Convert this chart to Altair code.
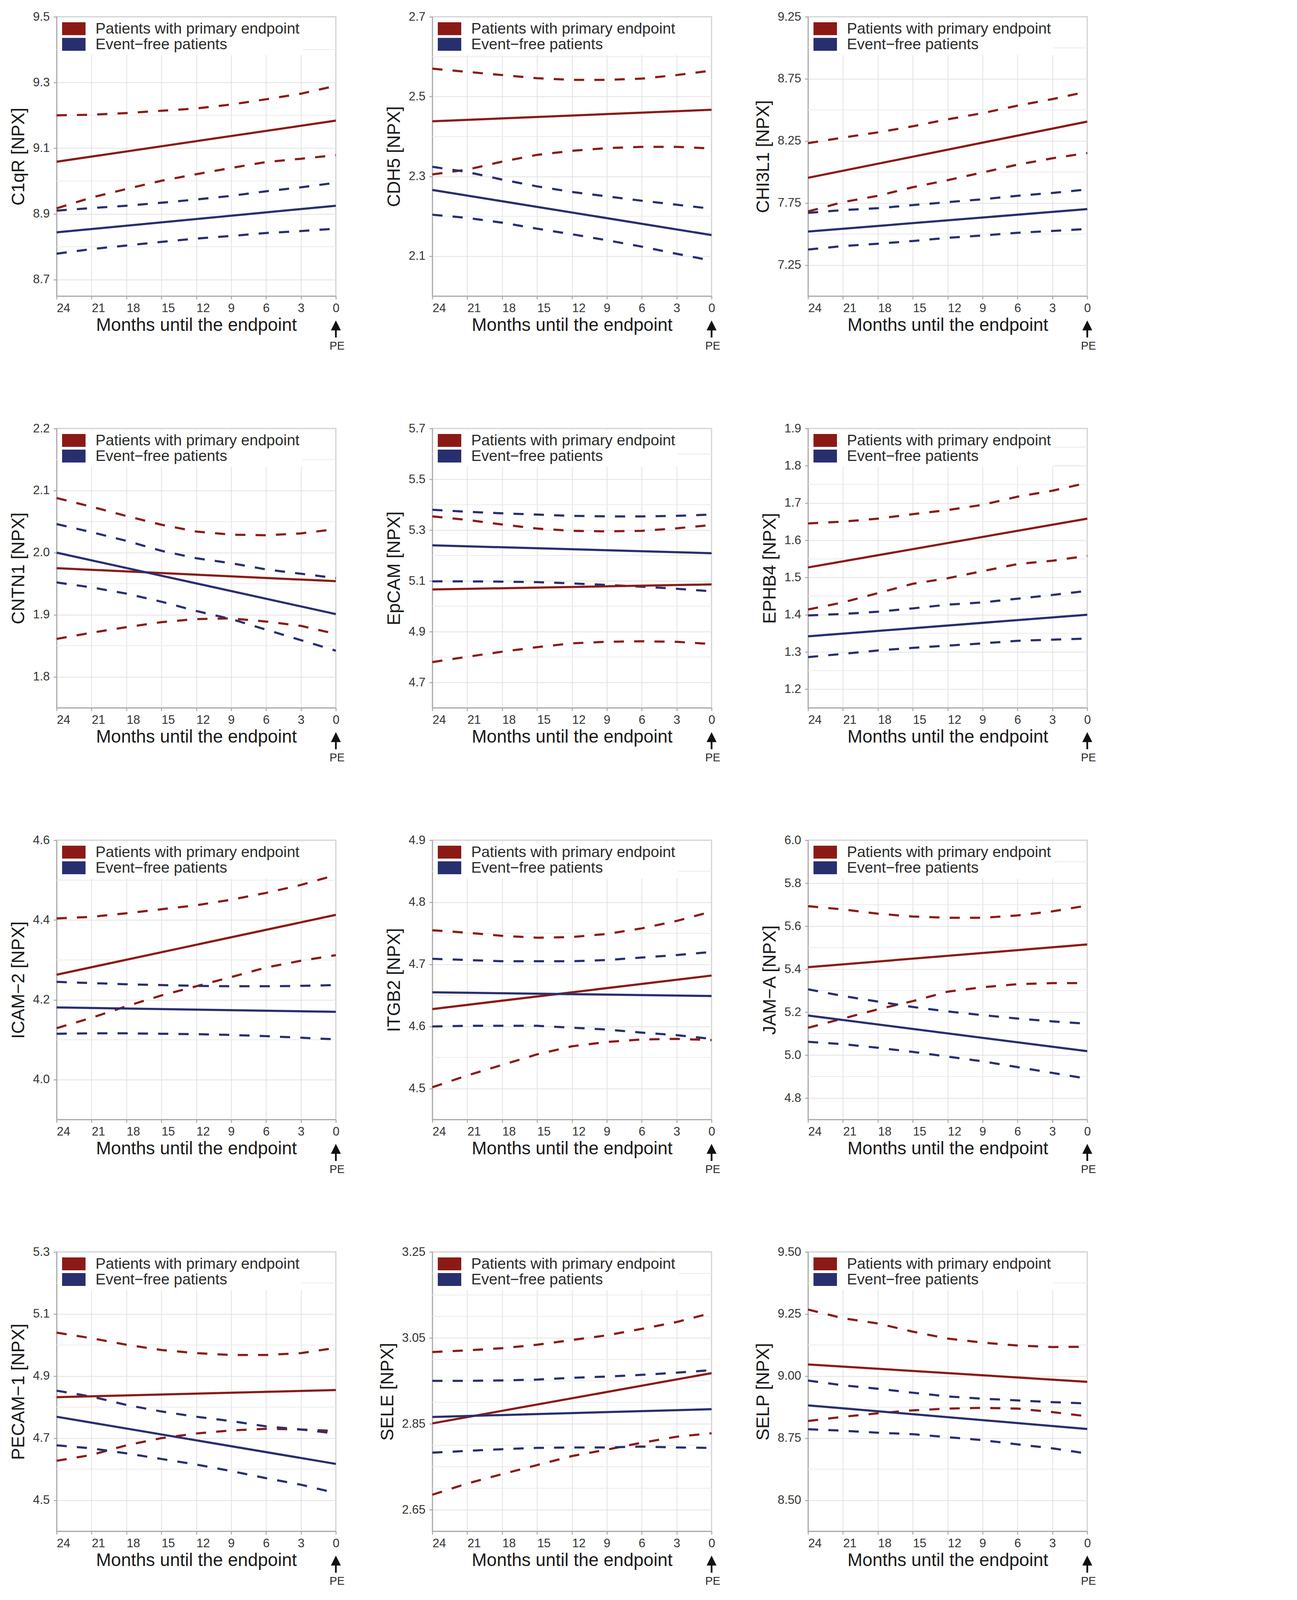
import altair as alt
import pandas as pd

# ---------------- shared values ----------------
MONTHS = [24, 21, 18, 15, 12, 9, 6, 3, 0]      # x positions of the CI readings
MID_MONTHS = [24, 0]                             # estimate lines are straight
GROUPS = ["Patients with primary endpoint", "Event\u2212free patients"]
GROUP_KEYS = ["PE", "EF"]
COLORS = ["#8b1a16", "#282f6f"]
PE_MONTH = [0]
X_TITLE = "Months until the endpoint"

# ---------------- C1qR ----------------
C1QR_DOMAIN = [8.65, 9.5]
C1QR_TICKS = [8.7, 8.9, 9.1, 9.3, 9.5]
C1QR_MINOR = [8.8, 9.0, 9.2, 9.4]
C1QR_PE_MID = [9.059, 9.184]
C1QR_PE_HI = [9.200, 9.202, 9.207, 9.214, 9.221, 9.233, 9.249, 9.266, 9.290]
C1QR_PE_LO = [8.917, 8.950, 8.976, 9.001, 9.021, 9.040, 9.058, 9.068, 9.079]
C1QR_EF_MID = [8.844, 8.925]
C1QR_EF_HI = [8.910, 8.918, 8.925, 8.934, 8.944, 8.955, 8.969, 8.981, 8.995]
C1QR_EF_LO = [8.779, 8.793, 8.804, 8.815, 8.825, 8.833, 8.842, 8.848, 8.855]

# ---------------- CDH5 ----------------
CDH5_DOMAIN = [2.0, 2.7]
CDH5_TICKS = [2.1, 2.3, 2.5, 2.7]
CDH5_MINOR = [2.2, 2.4, 2.6]
CDH5_PE_MID = [2.438, 2.467]
CDH5_PE_HI = [2.570, 2.562, 2.554, 2.546, 2.542, 2.542, 2.545, 2.554, 2.565]
CDH5_PE_LO = [2.305, 2.317, 2.337, 2.354, 2.364, 2.371, 2.374, 2.374, 2.370]
CDH5_EF_MID = [2.266, 2.153]
CDH5_EF_HI = [2.324, 2.311, 2.292, 2.275, 2.261, 2.250, 2.239, 2.229, 2.219]
CDH5_EF_LO = [2.204, 2.196, 2.184, 2.169, 2.155, 2.140, 2.124, 2.106, 2.089]

# ---------------- CHI3L1 ----------------
CHI3L1_DOMAIN = [7.0, 9.25]
CHI3L1_TICKS = [7.25, 7.75, 8.25, 8.75, 9.25]
CHI3L1_MINOR = [7.5, 8.0, 8.5, 9.0]
CHI3L1_PE_MID = [7.953, 8.406]
CHI3L1_PE_HI = [8.232, 8.277, 8.319, 8.368, 8.424, 8.474, 8.534, 8.587, 8.647]
CHI3L1_PE_LO = [7.682, 7.757, 7.808, 7.877, 7.934, 7.996, 8.059, 8.110, 8.153]
CHI3L1_EF_MID = [7.520, 7.701]
CHI3L1_EF_HI = [7.670, 7.693, 7.708, 7.733, 7.757, 7.780, 7.808, 7.831, 7.859]
CHI3L1_EF_LO = [7.375, 7.403, 7.422, 7.444, 7.469, 7.488, 7.510, 7.525, 7.541]

# ---------------- CNTN1 ----------------
CNTN1_DOMAIN = [1.75, 2.2]
CNTN1_TICKS = [1.8, 1.9, 2.0, 2.1, 2.2]
CNTN1_MINOR = [1.85, 1.95, 2.05, 2.15]
CNTN1_PE_MID = [1.975, 1.954]
CNTN1_PE_HI = [2.088, 2.074, 2.059, 2.045, 2.034, 2.029, 2.028, 2.031, 2.038]
CNTN1_PE_LO = [1.861, 1.871, 1.880, 1.888, 1.893, 1.894, 1.889, 1.882, 1.869]
CNTN1_EF_MID = [2.000, 1.901]
CNTN1_EF_HI = [2.046, 2.033, 2.019, 2.003, 1.991, 1.983, 1.973, 1.966, 1.959]
CNTN1_EF_LO = [1.952, 1.944, 1.934, 1.921, 1.906, 1.893, 1.876, 1.859, 1.842]

# ---------------- EpCAM ----------------
EPCAM_DOMAIN = [4.6, 5.7]
EPCAM_TICKS = [4.7, 4.9, 5.1, 5.3, 5.5, 5.7]
EPCAM_MINOR = [4.8, 5.0, 5.2, 5.4, 5.6]
EPCAM_PE_MID = [5.066, 5.086]
EPCAM_PE_HI = [5.354, 5.340, 5.322, 5.306, 5.297, 5.295, 5.297, 5.307, 5.320]
EPCAM_PE_LO = [4.780, 4.801, 4.821, 4.839, 4.854, 4.860, 4.862, 4.860, 4.851]
EPCAM_EF_MID = [5.240, 5.209]
EPCAM_EF_HI = [5.380, 5.372, 5.366, 5.361, 5.356, 5.354, 5.354, 5.356, 5.361]
EPCAM_EF_LO = [5.098, 5.098, 5.097, 5.095, 5.090, 5.084, 5.077, 5.069, 5.059]

# ---------------- EPHB4 ----------------
EPHB4_DOMAIN = [1.15, 1.9]
EPHB4_TICKS = [1.2, 1.3, 1.4, 1.5, 1.6, 1.7, 1.8, 1.9]
EPHB4_MINOR = [1.25, 1.35, 1.45, 1.55, 1.65, 1.75, 1.85]
EPHB4_PE_MID = [1.527, 1.658]
EPHB4_PE_HI = [1.645, 1.650, 1.658, 1.670, 1.681, 1.695, 1.717, 1.733, 1.754]
EPHB4_PE_LO = [1.414, 1.433, 1.458, 1.483, 1.498, 1.517, 1.536, 1.545, 1.558]
EPHB4_EF_MID = [1.342, 1.400]
EPHB4_EF_HI = [1.398, 1.402, 1.408, 1.417, 1.427, 1.433, 1.443, 1.453, 1.464]
EPHB4_EF_LO = [1.286, 1.295, 1.304, 1.311, 1.317, 1.323, 1.330, 1.333, 1.336]

# ---------------- ICAM-2 ----------------
ICAM2_DOMAIN = [3.9, 4.6]
ICAM2_TICKS = [4.0, 4.2, 4.4, 4.6]
ICAM2_MINOR = [4.1, 4.3, 4.5]
ICAM2_PE_MID = [4.263, 4.413]
ICAM2_PE_HI = [4.404, 4.408, 4.417, 4.427, 4.437, 4.451, 4.468, 4.488, 4.513]
ICAM2_PE_LO = [4.129, 4.155, 4.184, 4.211, 4.234, 4.257, 4.281, 4.298, 4.312]
ICAM2_EF_MID = [4.181, 4.170]
ICAM2_EF_HI = [4.245, 4.242, 4.239, 4.237, 4.235, 4.234, 4.234, 4.235, 4.237]
ICAM2_EF_LO = [4.115, 4.116, 4.116, 4.115, 4.114, 4.112, 4.109, 4.105, 4.101]

# ---------------- ITGB2 ----------------
ITGB2_DOMAIN = [4.45, 4.9]
ITGB2_TICKS = [4.5, 4.6, 4.7, 4.8, 4.9]
ITGB2_MINOR = [4.55, 4.65, 4.75, 4.85]
ITGB2_PE_MID = [4.628, 4.682]
ITGB2_PE_HI = [4.755, 4.751, 4.746, 4.743, 4.744, 4.749, 4.758, 4.770, 4.785]
ITGB2_PE_LO = [4.502, 4.521, 4.538, 4.555, 4.568, 4.575, 4.579, 4.580, 4.578]
ITGB2_EF_MID = [4.655, 4.649]
ITGB2_EF_HI = [4.709, 4.707, 4.705, 4.705, 4.705, 4.707, 4.711, 4.715, 4.720]
ITGB2_EF_LO = [4.600, 4.601, 4.601, 4.601, 4.598, 4.595, 4.590, 4.586, 4.580]

# ---------------- JAM-A ----------------
JAMA_DOMAIN = [4.7, 6.0]
JAMA_TICKS = [4.8, 5.0, 5.2, 5.4, 5.6, 5.8, 6.0]
JAMA_MINOR = [4.9, 5.1, 5.3, 5.5, 5.7, 5.9]
JAMA_PE_MID = [5.409, 5.515]
JAMA_PE_HI = [5.693, 5.678, 5.658, 5.645, 5.639, 5.639, 5.650, 5.669, 5.696]
JAMA_PE_LO = [5.127, 5.170, 5.213, 5.251, 5.295, 5.316, 5.330, 5.335, 5.335]
JAMA_EF_MID = [5.184, 5.018]
JAMA_EF_HI = [5.306, 5.275, 5.249, 5.224, 5.203, 5.186, 5.170, 5.157, 5.146]
JAMA_EF_LO = [5.062, 5.051, 5.034, 5.015, 4.993, 4.971, 4.944, 4.917, 4.890]

# ---------------- PECAM-1 ----------------
PECAM1_DOMAIN = [4.4, 5.3]
PECAM1_TICKS = [4.5, 4.7, 4.9, 5.1, 5.3]
PECAM1_MINOR = [4.6, 4.8, 5.0, 5.2]
PECAM1_PE_MID = [4.832, 4.855]
PECAM1_PE_HI = [5.040, 5.022, 5.001, 4.984, 4.974, 4.968, 4.968, 4.974, 4.991]
PECAM1_PE_LO = [4.627, 4.646, 4.677, 4.700, 4.715, 4.725, 4.730, 4.728, 4.723]
PECAM1_EF_MID = [4.769, 4.617]
PECAM1_EF_HI = [4.853, 4.834, 4.807, 4.786, 4.769, 4.755, 4.738, 4.728, 4.715]
PECAM1_EF_LO = [4.677, 4.667, 4.651, 4.633, 4.615, 4.594, 4.571, 4.550, 4.523]

# ---------------- SELE ----------------
SELE_DOMAIN = [2.6, 3.25]
SELE_TICKS = [2.65, 2.85, 3.05, 3.25]
SELE_MINOR = [2.70, 2.75, 2.80, 2.90, 2.95, 3.00, 3.10, 3.15, 3.20]
SELE_PE_MID = [2.851, 2.968]
SELE_PE_HI = [3.017, 3.021, 3.026, 3.034, 3.045, 3.056, 3.071, 3.087, 3.108]
SELE_PE_LO = [2.685, 2.711, 2.733, 2.754, 2.775, 2.790, 2.806, 2.820, 2.828]
SELE_EF_MID = [2.866, 2.884]
SELE_EF_HI = [2.950, 2.950, 2.951, 2.953, 2.957, 2.960, 2.964, 2.969, 2.975]
SELE_EF_LO = [2.783, 2.787, 2.791, 2.794, 2.795, 2.795, 2.797, 2.795, 2.794]

# ---------------- SELP ----------------
SELP_DOMAIN = [8.375, 9.5]
SELP_TICKS = [8.5, 8.75, 9.0, 9.25, 9.5]
SELP_MINOR = [8.625, 8.875, 9.125, 9.375]
SELP_PE_MID = [9.047, 8.977]
SELP_PE_HI = [9.268, 9.233, 9.212, 9.179, 9.151, 9.135, 9.123, 9.117, 9.118]
SELP_PE_LO = [8.819, 8.836, 8.850, 8.862, 8.869, 8.872, 8.869, 8.855, 8.838]
SELP_EF_MID = [8.882, 8.787]
SELP_EF_HI = [8.982, 8.963, 8.949, 8.933, 8.918, 8.909, 8.902, 8.895, 8.890]
SELP_EF_LO = [8.786, 8.780, 8.772, 8.766, 8.754, 8.742, 8.725, 8.709, 8.688]

PANELS = [
    ("C1qR", C1QR_DOMAIN, C1QR_TICKS, C1QR_MINOR, ".1f",
     C1QR_PE_MID, C1QR_PE_LO, C1QR_PE_HI, C1QR_EF_MID, C1QR_EF_LO, C1QR_EF_HI),
    ("CDH5", CDH5_DOMAIN, CDH5_TICKS, CDH5_MINOR, ".1f",
     CDH5_PE_MID, CDH5_PE_LO, CDH5_PE_HI, CDH5_EF_MID, CDH5_EF_LO, CDH5_EF_HI),
    ("CHI3L1", CHI3L1_DOMAIN, CHI3L1_TICKS, CHI3L1_MINOR, ".2f",
     CHI3L1_PE_MID, CHI3L1_PE_LO, CHI3L1_PE_HI, CHI3L1_EF_MID, CHI3L1_EF_LO, CHI3L1_EF_HI),
    ("CNTN1", CNTN1_DOMAIN, CNTN1_TICKS, CNTN1_MINOR, ".1f",
     CNTN1_PE_MID, CNTN1_PE_LO, CNTN1_PE_HI, CNTN1_EF_MID, CNTN1_EF_LO, CNTN1_EF_HI),
    ("EpCAM", EPCAM_DOMAIN, EPCAM_TICKS, EPCAM_MINOR, ".1f",
     EPCAM_PE_MID, EPCAM_PE_LO, EPCAM_PE_HI, EPCAM_EF_MID, EPCAM_EF_LO, EPCAM_EF_HI),
    ("EPHB4", EPHB4_DOMAIN, EPHB4_TICKS, EPHB4_MINOR, ".1f",
     EPHB4_PE_MID, EPHB4_PE_LO, EPHB4_PE_HI, EPHB4_EF_MID, EPHB4_EF_LO, EPHB4_EF_HI),
    ("ICAM\u22122", ICAM2_DOMAIN, ICAM2_TICKS, ICAM2_MINOR, ".1f",
     ICAM2_PE_MID, ICAM2_PE_LO, ICAM2_PE_HI, ICAM2_EF_MID, ICAM2_EF_LO, ICAM2_EF_HI),
    ("ITGB2", ITGB2_DOMAIN, ITGB2_TICKS, ITGB2_MINOR, ".1f",
     ITGB2_PE_MID, ITGB2_PE_LO, ITGB2_PE_HI, ITGB2_EF_MID, ITGB2_EF_LO, ITGB2_EF_HI),
    ("JAM\u2212A", JAMA_DOMAIN, JAMA_TICKS, JAMA_MINOR, ".1f",
     JAMA_PE_MID, JAMA_PE_LO, JAMA_PE_HI, JAMA_EF_MID, JAMA_EF_LO, JAMA_EF_HI),
    ("PECAM\u22121", PECAM1_DOMAIN, PECAM1_TICKS, PECAM1_MINOR, ".1f",
     PECAM1_PE_MID, PECAM1_PE_LO, PECAM1_PE_HI, PECAM1_EF_MID, PECAM1_EF_LO, PECAM1_EF_HI),
    ("SELE", SELE_DOMAIN, SELE_TICKS, SELE_MINOR, ".2f",
     SELE_PE_MID, SELE_PE_LO, SELE_PE_HI, SELE_EF_MID, SELE_EF_LO, SELE_EF_HI),
    ("SELP", SELP_DOMAIN, SELP_TICKS, SELP_MINOR, ".2f",
     SELP_PE_MID, SELP_PE_LO, SELP_PE_HI, SELP_EF_MID, SELP_EF_LO, SELP_EF_HI),
]

# ---------------- styling ----------------
W = 715
H = 715
FONT = "Liberation Sans"
LEGEND_SYMBOL = "M-1.82,-1H1.82V1H-1.82Z"   # wide filled key (60 x 33 at size 1089)
ARROW_HEAD = "M0,-1L1,1L-1,1Z"


def panel_frame(pe_mid, pe_lo, pe_hi, ef_mid, ef_lo, ef_hi):
    rows = []
    for key, grp, mid, lo, hi in ((GROUP_KEYS[0], GROUPS[0], pe_mid, pe_lo, pe_hi),
                                  (GROUP_KEYS[1], GROUPS[1], ef_mid, ef_lo, ef_hi)):
        for kind, months, vals in (("mid", MID_MONTHS, mid), ("lo", MONTHS, lo),
                                   ("hi", MONTHS, hi)):
            for m, v in zip(months, vals):
                rows.append({"key": key, "group": grp, "kind": kind,
                             "month": m, "value": v})
    return pd.DataFrame(rows)


def build_panel(name, dom, ticks, minor, fmt, *series):
    df = panel_frame(*series)
    x_enc = alt.X(
        "month:Q",
        scale=alt.Scale(domain=[0, 24], reverse=True, nice=False, zero=False),
        axis=alt.Axis(
            values=MONTHS, title=X_TITLE, format="d",
            labelAlign={"condition": {"test": "datum.value >= 10", "value": "left"},
                        "value": "center"},
        ),
    )
    y_enc = alt.Y(
        "value:Q",
        scale=alt.Scale(domain=dom, nice=False, zero=False),
        axis=alt.Axis(values=ticks, format=fmt, title=f"{name} [NPX]"),
    )
    stroke_enc = alt.Stroke("key:N", scale=alt.Scale(domain=GROUP_KEYS, range=COLORS),
                            legend=None)
    order_enc = alt.Order("month:Q", sort="descending")

    base = alt.Chart(df)

    minor_grid = alt.Chart(pd.DataFrame({"value": minor})).mark_rule(
        color="#ebebeb", strokeWidth=2
    ).encode(y=y_enc)

    ci = base.transform_filter(alt.datum.kind != "mid").mark_line(
        strokeWidth=5.5, strokeDash=[26, 26]
    ).encode(x=x_enc, y=y_enc, stroke=stroke_enc, detail="kind:N", order=order_enc)

    mid = base.transform_filter(alt.datum.kind == "mid").mark_line(
        strokeWidth=5.5
    ).encode(x=x_enc, y=y_enc, stroke=stroke_enc, order=order_enc)

    legend_layer = base.transform_filter(alt.datum.kind == "mid").mark_square(
        opacity=0, size=10
    ).encode(
        x=x_enc, y=y_enc,
        fill=alt.Fill(
            "group:N", scale=alt.Scale(domain=GROUPS, range=COLORS), title=None,
            legend=alt.Legend(
                orient="top-left", offset=4, padding=7, fillColor="white",
                direction="vertical", symbolType=LEGEND_SYMBOL, symbolSize=1089,
                symbolOffset=13.5, symbolOpacity=1, symbolStrokeWidth=0,
                labelFont=FONT, labelFontSize=39, labelColor="#2b2b2b",
                labelOffset=36, labelLimit=1200, rowPadding=-15,
            ),
        ),
    )

    pe_df = pd.DataFrame({"month": PE_MONTH})
    arrow_head = alt.Chart(pe_df).mark_point(
        shape=ARROW_HEAD, size=650, filled=True, color="#111111", opacity=1
    ).encode(x=x_enc, y=alt.value(H + 75))
    arrow_shaft = alt.Chart(pe_df).mark_rule(color="#111111", strokeWidth=4.5).encode(
        x=x_enc, y=alt.value(H + 82), y2=alt.value(H + 106)
    )
    pe_text = alt.Chart(pe_df).mark_text(
        text="PE", font=FONT, fontSize=29, color="#2b2b2b", baseline="middle",
        align="center", dx=3
    ).encode(x=x_enc, y=alt.value(H + 128))

    return alt.layer(minor_grid, ci, mid, legend_layer, arrow_head, arrow_shaft,
                     pe_text).properties(width=W, height=H)


panels = [build_panel(*p) for p in PANELS]

chart = alt.concat(*panels, columns=3, spacing={"row": 176, "column": 84}).resolve_scale(
    fill="independent", stroke="independent"
).resolve_legend(fill="independent", stroke="independent").properties(
    padding={"left": 15, "top": 17, "right": 0, "bottom": 5}
).configure_view(
    stroke="#a8a8a8", strokeWidth=2.5
).configure_axis(
    domainColor="#a8a8a8", domainWidth=2.5, tickColor="#a8a8a8", tickWidth=2.5,
    tickSize=8, gridColor="#e2e2e2", gridWidth=2, labelFont=FONT,
    labelFontSize=31, labelColor="#333333", titleFont=FONT, titleFontSize=46,
    titleFontWeight="normal", titleColor="#1a1a1a",
).configure_axisX(
    labelPadding=8, titlePadding=6
).configure_axisY(
    labelPadding=10, titlePadding=12
)

chart.save("out.html", embed_options={"renderer": "svg", "actions": False})
